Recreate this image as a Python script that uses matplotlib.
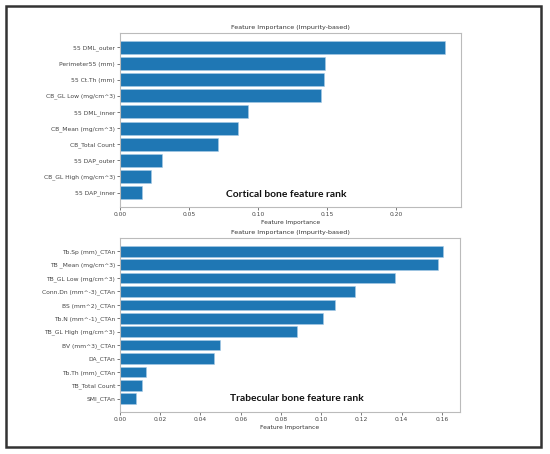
import matplotlib.pyplot as plt
from matplotlib.patches import Rectangle

# cortical bone features (top panel), in display order top -> bottom
cortical_labels = ['55 DML_outer', 'Perimeter55 (mm)', '55 Ct.Th (mm)', 'CB_GL Low (mg/cm^3)',
                   '55 DML_inner', 'CB_Mean (mg/cm^3)', 'CB_Total Count', '55 DAP_outer',
                   'CB_GL High (mg/cm^3)', '55 DAP_inner']
cortical_vals = [0.2355, 0.1486, 0.1478, 0.1457, 0.0930, 0.0858, 0.0707, 0.0301, 0.0222, 0.0161]
cortical_ticks = [0.00, 0.05, 0.10, 0.15, 0.20]

# trabecular bone features (bottom panel)
trab_labels = ['Tb.Sp (mm)_CTAn', 'TB _Mean (mg/cm^3)', 'TB_GL Low (mg/cm^3)', 'Conn.Dn (mm^-3)_CTAn',
               'BS (mm^2)_CTAn', 'Tb.N (mm^-1)_CTAn', 'TB_GL High (mg/cm^3)', 'BV (mm^3)_CTAn',
               'DA_CTAn', 'Tb.Th (mm)_CTAn', 'TB_Total Count', 'SMI_CTAn']
trab_vals = [0.1605, 0.1580, 0.1367, 0.1168, 0.1069, 0.1009, 0.0880, 0.0497, 0.0467, 0.0129, 0.0109, 0.0080]
trab_ticks = [0.00, 0.02, 0.04, 0.06, 0.08, 0.10, 0.12, 0.14, 0.16]

fig = plt.figure(figsize=(5.5, 4.54), dpi=100)
fig.patches.append(Rectangle((6 / 550, 1 - 447 / 454), 535 / 550, 441 / 454,
                             transform=fig.transFigure, fill=False, edgecolor='#333333', linewidth=1.8))

small = 4.3


def panel(rect, labels, vals, ticks, xmax, caption, cap_xy):
    ax = fig.add_axes(rect)
    pos = list(range(len(labels)))[::-1]
    ax.barh(pos, vals, height=0.8, color='#1f77b4', edgecolor='#a8cbe6', linewidth=0.4)
    ax.set_yticks(pos)
    ax.set_yticklabels(labels)
    ax.set_xticks(ticks)
    ax.set_xticklabels(['%.2f' % t for t in ticks])
    ax.set_xlim(0, xmax)
    ax.tick_params(labelsize=small, length=2, width=0.5, pad=1.5, colors='#444444')
    for s in ax.spines.values():
        s.set_color('#bbbbbb')
        s.set_linewidth(0.8)
    ax.set_title('Feature Importance (Impurity-based)', fontsize=small + 0.3, color='#333333', pad=3)
    ax.set_xlabel('Feature Importance', fontsize=small, color='#333333', labelpad=2)
    ax.text(cap_xy[0], cap_xy[1], caption, transform=ax.transAxes, ha='center', va='center',
            fontsize=7.4, fontweight='bold', family='Lato', color='#111111')
    return ax


panel([120 / 550, 1 - 207 / 454, 341 / 550, 174 / 454], cortical_labels, cortical_vals,
      cortical_ticks, 0.247, 'Cortical bone feature rank', (0.488, 0.07))
panel([120 / 550, 1 - 412 / 454, 340 / 550, 174 / 454], trab_labels, trab_vals,
      trab_ticks, 0.169, 'Trabecular bone feature rank', (0.519, 0.08))

fig.savefig('out.png', dpi=100)
